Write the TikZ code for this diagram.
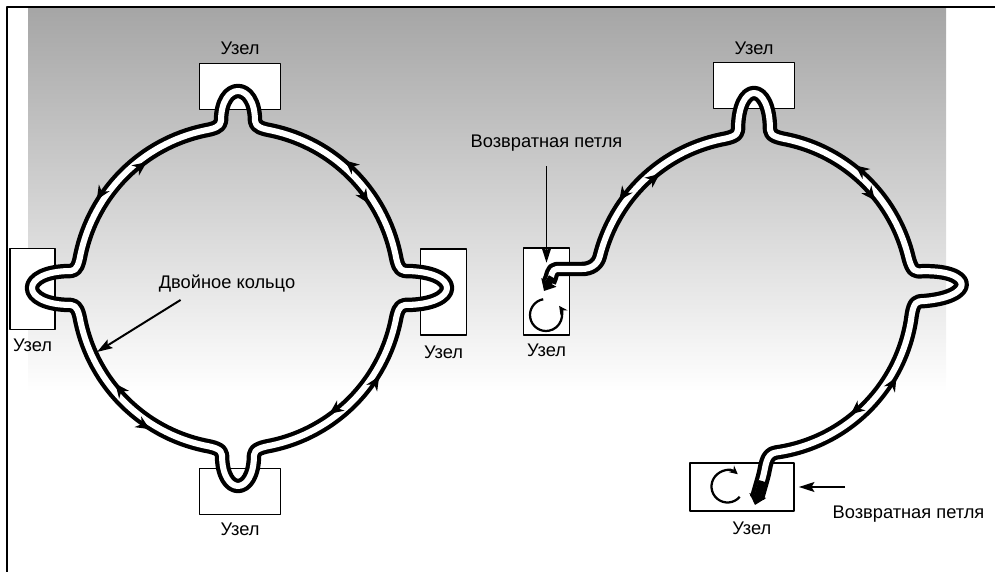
\documentclass[tikz,border=0pt]{standalone}
\usepackage{fontspec}
\setmainfont{Liberation Sans}
\usetikzlibrary{arrows.meta,positioning}

\begin{document}
\begin{tikzpicture}[
    x=0.025cm,
    y=0.025cm,
    line join=round,
    ring/.style={draw=black, double=white, double distance=4.3pt, line width=3pt},
    station/.style={draw, fill=white, line width=0.9pt, inner sep=0pt},
    lbl/.style={inner sep=1pt, font=\fontsize{13}{15}\selectfont},
    pointer/.style={line width=1.4pt, -{Stealth[length=11pt, width=7pt, inset=2pt]}},
    flow/.style={line width=0.8pt, -{Stealth[length=10pt, width=9pt]}},
    spin/.style={line width=1.6pt, -{Stealth[length=6pt, width=6pt]}},
    wrapend/.style={line width=5pt, -{Triangle[length=7pt, width=12pt]}},
    % lobe: direction, half width, tip distance, base angle
    lobe/.style n args={4}{insert path={
        .. controls ([rotate=#1]-#4+3:\R) and ([rotate=#1]\R,-#2) .. ([rotate=#1]\R+6,-#2)
        .. controls ([rotate=#1]#3*4/3-\R/3-2,-#2) and ([rotate=#1]#3*4/3-\R/3-2,#2) .. ([rotate=#1]\R+6,#2)
        .. controls ([rotate=#1]\R,#2) and ([rotate=#1]#4-3:\R) .. ([rotate=#1]#4:\R)}}
]
    \useasboundingbox (0,0) rectangle (995,572);

    % halftone band and frame
    \shade[top color=black!35, bottom color=white] (28,563) rectangle (946,180);
    \draw[line width=1.5pt] (7,0) -- (7,565) -- (995,565);

    % stations on the closed ring
    \node[station, minimum width=58pt, minimum height=33pt] (ntop) at (240,485.5) {};
    \node[station, minimum width=32pt, minimum height=58pt] (nleft) at (32.5,283) {};
    \node[station, minimum width=33pt, minimum height=61pt] (nright) at (443.5,280) {};
    \node[station, minimum width=58pt, minimum height=33pt] (nbot) at (240,80.5) {};

    % stations on the wrapped ring
    \node[station, minimum width=58pt, minimum height=33pt] (mtop) at (754,486.5) {};
    \node[station, minimum width=33pt, minimum height=62pt] (mwrap) at (546.5,280.5) {};
    \node[station, minimum width=74pt, minimum height=34pt] (mend) at (742,85) {};

    \node[lbl, above=4.5pt of ntop] (ntopl) {Узел};
    \node[lbl, below=4.7pt of nleft] (nleftl) {Узел};
    \node[lbl, below=6pt of nright] (nrightl) {Узел};
    \node[lbl, below=4pt of nbot] (nbotl) {Узел};
    \node[lbl, above=3.5pt of mtop] (mtopl) {Узел};
    \node[lbl, below=4.7pt of mwrap] (mwrapl) {Узел};
    \node[lbl, below=6pt of mend, xshift=7pt] (mendl) {Узел};

    % closed dual ring
    \begin{scope}[shift={(238,284)}]
        \def\R{161}
        \def\Ri{155.5}
        \def\Ro{166.5}
        \draw[ring] (-12:\R) [lobe={0}{17}{209}{12}]
            arc[start angle=12, end angle=78, radius=\R] [lobe={90}{17}{197}{12}]
            arc[start angle=102, end angle=168, radius=\R] [lobe={180}{17}{206}{12}]
            arc[start angle=192, end angle=258, radius=\R] [lobe={270}{16}{198}{12}]
            arc[start angle=282, end angle=348, radius=\R] -- cycle;
        % inner ring runs clockwise, outer ring counter-clockwise
        \foreach \a/\b in {126/148, 33/50, 218/238, 306/328}{
            \draw[flow] (\a+5:\Ri) arc[start angle=\a+5, end angle=\a, radius=\Ri];
            \draw[flow] (\b-5:\Ro) arc[start angle=\b-5, end angle=\b, radius=\Ro];
        }
    \end{scope}

    % ring wrapped at two stations
    \begin{scope}[shift={(754,277)}]
        \def\R{159}
        \def\Ri{153.5}
        \def\Ro{164.5}
        \draw[ring] (3,-203) -- (9,-182) to[out=74, in=188] (-82:\R)
            arc[start angle=-82, end angle=-9, radius=\R] [lobe={3}{15}{208}{12}]
            arc[start angle=15, end angle=78, radius=\R] [lobe={90}{16}{202}{12}]
            arc[start angle=102, end angle=166, radius=\R]
            to[out=256, in=0] (-172,26) -- (-197,26) to[out=180, in=60] (-205,13);
        \draw[wrapend] (8,-186) -- (1,-210);
        \draw[wrapend] (-202,18) -- (-210,4);
        \foreach \a/\b in {128/145, 38/52, 309/330}{
            \draw[flow] (\a+5:\Ri) arc[start angle=\a+5, end angle=\a, radius=\Ri];
            \draw[flow] (\b-5:\Ro) arc[start angle=\b-5, end angle=\b, radius=\Ro];
        }
    \end{scope}

    % loopback inside the wrapping stations
    \draw[spin] (546,257) ++(100:16) arc[start angle=100, end angle=395, radius=16];
    \draw[spin] (727.5,85.5) ++(320:16) arc[start angle=320, end angle=50, radius=16];

    % callouts
    \node[lbl, anchor=base] (dring) at (227,283) {Двойное кольцо};
    \coordinate (dtip) at (97,220);
    \draw[pointer] ([xshift=-33pt, yshift=-4pt]dring.south) -- (dtip);

    \node[lbl, anchor=base] (ret1) at (546.5,424) {Возвратная петля};
    \draw[pointer] (ret1.south) ++(0,-13) -- ([yshift=-11pt]mwrap.north);

    \node[lbl, anchor=base] (ret2) at (908.5,53) {Возвратная петля};
    \coordinate (ret2from) at (845,85);
    \draw[pointer] (ret2from) -- ([xshift=3pt]mend.east);
\end{tikzpicture}
\end{document}
